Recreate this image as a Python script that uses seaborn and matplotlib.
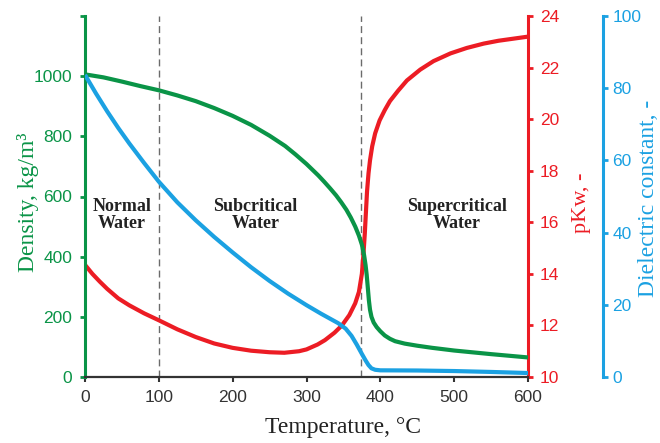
import matplotlib
matplotlib.use("Agg")
import matplotlib.pyplot as plt
import seaborn as sns

# ---------------- data ----------------
temp_density = [0, 25, 50, 75, 100, 125, 150, 175, 200, 225, 250, 271, 285, 300, 316,
                324, 332, 340, 347, 354, 360, 366, 371, 375, 378, 380, 381.5, 383,
                384.5, 386, 388, 391, 395, 400, 406, 413, 420, 433, 450, 470, 500,
                550, 600]
density = [1006, 996, 982, 967, 953, 936, 917, 894, 868, 838, 802, 768, 740, 708, 670,
           649, 627, 604, 581, 556, 530, 500, 470, 440, 405, 372, 340, 298,
           255, 224, 200, 181, 166, 152, 138, 127, 119, 111, 104, 97, 88,
           76, 65]

temp_pkw = [0, 10, 20, 30, 45, 60, 80, 100, 125, 150, 175, 200, 225, 250, 270, 290, 300,
            315, 325, 338, 348, 358, 366, 371, 375, 377, 379, 380.5, 382, 384, 386, 389,
            393, 399, 406, 413, 424, 436, 454, 472, 495, 517, 540, 560, 580, 600]
pkw = [14.35, 14.0, 13.7, 13.42, 13.05, 12.78, 12.47, 12.2, 11.85, 11.55, 11.3, 11.13,
       11.02, 10.96, 10.94, 11.0, 11.07, 11.26, 11.43, 11.72, 12.0, 12.4, 12.86, 13.3,
       14.0, 14.7, 15.58, 16.4, 17.2, 17.9, 18.4, 18.95, 19.45, 19.95, 20.35, 20.7,
       21.1, 21.5, 21.92, 22.25, 22.55, 22.76, 22.93, 23.04, 23.12, 23.2]

temp_diel = [0, 15, 30, 45, 60, 80, 100, 125, 150, 175, 200, 225, 250, 275, 300, 320,
             343, 353, 361, 368, 375, 380, 384, 388, 393, 400, 450, 500, 550, 600]
dielectric = [83.7, 78.5, 73.6, 69.0, 64.7, 59.3, 54.1, 48.4, 43.4, 38.8, 34.5, 30.4,
              26.6, 23.1, 19.9, 17.5, 14.9, 13.4, 11.4, 9.0, 6.4, 4.6, 3.3, 2.4, 2.0,
              1.85, 1.8, 1.65, 1.4, 1.1]

x_ticks = [0, 100, 200, 300, 400, 500, 600]
density_ticks = [0, 200, 400, 600, 800, 1000, 1200]
density_tick_labels = ["0", "200", "400", "600", "800", "1000", ""]
pkw_ticks = [10, 12, 14, 16, 18, 20, 22, 24]
diel_ticks = [0, 20, 40, 60, 80, 100]

region_labels = ["Normal\nWater", "Subcritical\nWater", "Supercritical\nWater"]
region_temps = [50, 231, 504]
region_level = 538
boundary_temps = [100, 374]

# ---------------- style ----------------
sns.set_style("white")
plt.rcParams["font.family"] = ["Liberation Sans", "DejaVu Sans"]

GREEN = "#0a9447"
RED = "#ec1c24"
BLUE = "#1ba1e2"
DARK = "#333333"
SERIF = ["Liberation Serif", "DejaVu Serif"]

fig = plt.figure(figsize=(6.6, 4.43), dpi=100)
fig.patch.set_facecolor("white")
ax = fig.add_axes([85 / 660, 1 - 377 / 443, 443 / 660, 361 / 443])
ax_r = ax.twinx()
ax_b = ax.twinx()
ax_r.set_zorder(1)
ax.set_zorder(2)
ax_b.set_zorder(3)
for a in (ax, ax_r, ax_b):
    a.patch.set_visible(False)

# boundaries
for t in boundary_temps:
    ax_r.axvline(t, color="#6b6b6b", lw=1.0, dashes=(5, 3), zorder=0)

# curves
line_kw = dict(lw=3, estimator=None, sort=False)
sns.lineplot(x=temp_pkw, y=pkw, ax=ax_r, color=RED, **line_kw)
sns.lineplot(x=temp_density, y=density, ax=ax, color=GREEN, **line_kw)
sns.lineplot(x=temp_diel, y=dielectric, ax=ax_b, color=BLUE, **line_kw)
for a in (ax, ax_r, ax_b):
    for ln in a.lines:
        ln.set_solid_joinstyle("round")
        ln.set_solid_capstyle("butt")

# limits & ticks
ax.set_xlim(0, 600)
ax.set_ylim(0, 1200)
ax_r.set_ylim(10, 24)
ax_b.set_ylim(0, 100)
ax.set_xticks(x_ticks)
ax.set_yticks(density_ticks)
ax.set_yticklabels(density_tick_labels)
ax_r.set_yticks(pkw_ticks)
ax_b.set_yticks(diel_ticks)

# spines
for s in ("top", "right"):
    ax.spines[s].set_visible(False)
ax.spines["left"].set_color(GREEN)
ax.spines["left"].set_linewidth(2.2)
ax.spines["bottom"].set_color(DARK)
ax.spines["bottom"].set_linewidth(1.6)
for s in ("top", "left", "bottom"):
    ax_r.spines[s].set_visible(False)
    ax_b.spines[s].set_visible(False)
ax_r.spines["right"].set_color(RED)
ax_r.spines["right"].set_linewidth(2.2)
ax_b.spines["right"].set_color(BLUE)
ax_b.spines["right"].set_linewidth(2.2)
ax_b.spines["right"].set_position(("outward", 54))

ax.tick_params(axis="y", colors=GREEN, length=3.6, width=2, pad=5.5, labelsize=12.5, direction="out", left=True)
ax.tick_params(axis="x", colors=DARK, length=3.6, width=1.5, pad=6, labelsize=12.5, direction="out", bottom=True)
ax_r.tick_params(axis="y", colors=RED, length=3.6, width=2, pad=5, labelsize=12.5, direction="out", right=True)
ax_b.tick_params(axis="y", colors=BLUE, length=3.6, width=2, pad=3, labelsize=12.5, direction="out", right=True)

# axis labels
ax.set_xlabel("Temperature, °C", fontsize=17, family=SERIF, color="#222222")
ax.xaxis.set_label_coords(0.582, -0.139)
ax.xaxis.label.set_va("center")

ax.set_ylabel("Density, kg/m³", fontsize=17, family=SERIF, color=GREEN)
ax.yaxis.set_label_coords(-0.129, 0.485)
ax.yaxis.label.set_va("center")

ax_r.set_ylabel("pKw, -", fontsize=16, family=SERIF, color=RED)
ax_r.yaxis.set_label_coords(1.120, 0.482)
ax_r.yaxis.label.set_va("center")

ax_b.set_ylabel("Dielectric constant, -", fontsize=17, family=SERIF, color=BLUE)
ax_b.yaxis.set_label_coords(1.271, 0.496)
ax_b.yaxis.label.set_va("center")

# region annotations
for lab, t in zip(region_labels, region_temps):
    ax.text(t, region_level, lab, ha="center", va="center", fontsize=13,
            fontweight="bold", family=SERIF, color="#222222", linespacing=1.05)

fig.savefig("out.png", dpi=100)
